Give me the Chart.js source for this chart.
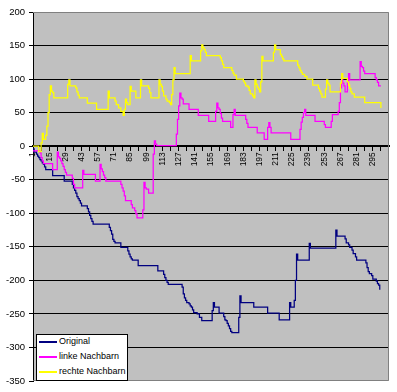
<!DOCTYPE html>
<html>
<head>
<meta charset="utf-8">
<script src="https://cdn.jsdelivr.net/npm/chart.js@4/dist/chart.umd.min.js"></script>
<style>
  body { margin: 0; background: #fff; }
  #wrap { position: relative; width: 397px; height: 392px; }
  #legend {
    position: absolute; left: 36px; top: 334px; width: 90px; height: 45px;
    background: #fff; border: 1px solid #000;
    font: 9px 'Liberation Sans', Arial, sans-serif; color: #000;
  }
  .row { position: absolute; left: 0; height: 15px; line-height: 15px; white-space: nowrap; }
  .sw { position: absolute; left: 2px; top: 7px; width: 18px; height: 2px; }
  .tx { position: absolute; left: 22px; top: 0; }
</style>
</head>
<body>
<div id="wrap">
  <canvas id="chart" width="397" height="392"></canvas>
  <div id="legend"></div>
</div>
<script>
// series names / colours
const seriesNames = ['Original', 'linke Nachbarn', 'rechte Nachbarn'];
const seriesColors = ['#000080', '#ff00ff', '#ffff00'];

// x axis labels (every 14th step) and y range
const xLabels = [1, 15, 29, 43, 57, 71, 85, 99, 113, 127, 141, 155, 169, 183, 197, 211, 225, 239, 253, 267, 281, 295];
const yTicks = [-350, -300, -250, -200, -150, -100, -50, 0, 50, 100, 150, 200];

// step points: value holds from x until the next x
const origX = [1,2,4,5,6,7,8,9,10,11,12,18,28,35,36,37,38,39,40,41,42,43,48,49,50,51,52,53,67,68,69,70,71,72,77,83,84,85,86,87,92,109,114,115,116,117,118,130,131,132,133,134,136,137,138,139,140,143,145,147,156,157,158,162,166,167,168,169,170,171,172,173,179,180,181,192,204,214,223,224,227,228,229,230,240,241,263,264,271,272,274,275,277,278,280,281,289,290,291,292,294,295,298,299,300,301];
const origY = [-4,-9,-12,-15,-17,-20,-22,-25,-27,-31,-35,-44,-52,-57,-62,-66,-70,-75,-78,-81,-85,-89,-93,-98,-103,-108,-112,-116,-121,-126,-131,-139,-142,-144,-151,-156,-161,-165,-168,-170,-178,-186,-191,-196,-200,-203,-206,-210,-220,-226,-230,-233,-235,-238,-240,-244,-248,-250,-255,-260,-245,-233,-240,-249,-254,-259,-260,-264,-268,-272,-276,-278,-255,-223,-233,-240,-249,-259,-233,-240,-230,-200,-161,-170,-145,-152,-125,-134,-138,-144,-147,-151,-155,-160,-165,-170,-174,-181,-187,-190,-193,-198,-201,-205,-207,-214];

const linksX = [1,7,8,9,10,18,22,23,24,25,26,27,28,29,30,35,36,37,44,45,55,59,60,61,62,63,64,77,78,79,80,81,86,87,89,90,91,96,97,98,99,101,105,106,107,108,125,126,127,128,129,130,131,136,144,153,159,160,161,162,163,164,165,172,174,175,176,185,186,187,195,201,204,205,206,207,224,232,233,234,235,236,237,245,253,254,259,260,265,266,267,268,269,270,271,273,274,275,284,285,286,287,288,297,298,299,300,302];
const linksY = [-7,-10,-17,-22,-26,-35,-9,-16,-18,-22,-26,-30,-35,-39,-43,-48,-57,-62,-36,-42,-52,-27,-34,-38,-43,-47,-52,-57,-62,-67,-74,-81,-87,-92,-96,-101,-107,-95,-54,-62,-64,-70,-12,8,3,1,18,40,60,79,72,70,63,55,46,37,52,64,57,55,49,42,37,28,47,55,46,40,34,28,20,10,28,35,28,20,10,25,36,43,50,55,46,37,32,28,37,47,52,65,87,100,94,90,81,95,108,99,126,119,117,112,108,102,99,95,90,90];

const rechtsX = [1,6,8,9,10,12,13,14,15,16,17,18,19,31,32,33,38,39,40,41,48,56,66,67,72,73,75,77,79,80,81,82,83,85,86,90,94,95,101,102,103,110,111,112,113,114,116,117,119,120,121,122,123,124,137,138,146,147,148,149,150,151,163,164,165,166,173,174,175,177,183,184,185,187,188,189,191,192,193,194,195,196,197,198,199,200,209,210,211,215,216,217,218,230,231,232,233,234,236,238,243,248,249,250,251,254,255,256,257,258,267,268,269,273,274,275,276,277,279,288,302];
const rechtsY = [0,-8,5,19,10,16,30,50,77,90,82,80,72,92,99,90,87,81,76,72,64,55,82,72,67,62,57,52,46,55,70,65,62,89,82,72,99,90,86,80,72,99,92,89,82,75,70,67,65,62,77,99,117,108,135,127,142,151,147,144,140,135,132,127,122,117,113,109,106,100,97,94,90,88,83,78,75,72,99,92,88,85,81,96,134,127,140,151,144,137,134,130,127,121,117,113,110,107,104,100,91,86,82,78,73,85,99,94,91,81,94,108,101,96,91,86,81,78,73,65,57];

const fontFamily = "'Liberation Sans', Arial, sans-serif";

function toPoints(xs, ys) {
    return xs.map((x, i) => ({ x: x, y: ys[i] }));
}

// grey plot area + grey frame like the Excel chart
const plotArea = {
    id: 'plotArea',
    beforeDraw(chart) {
        const { ctx, chartArea: a } = chart;
        ctx.save();
        ctx.fillStyle = '#c0c0c0';
        ctx.fillRect(a.left, a.top, a.right - a.left, a.bottom - a.top);
        ctx.restore();
    },
    afterDraw(chart) {
        const { ctx, chartArea: a } = chart;
        ctx.save();
        ctx.strokeStyle = '#808080';
        ctx.lineWidth = 1;
        ctx.beginPath();
        ctx.moveTo(a.left, Math.round(a.top) + 0.5);
        ctx.lineTo(Math.round(a.right) - 0.5, Math.round(a.top) + 0.5);
        ctx.lineTo(Math.round(a.right) - 0.5, Math.round(a.bottom) - 0.5);
        ctx.lineTo(a.left, Math.round(a.bottom) - 0.5);
        ctx.stroke();
        ctx.restore();
    }
};

const ctx = document.getElementById('chart').getContext('2d');

const lineStyle = { pointRadius: 0, borderWidth: 1.25, stepped: 'before', fill: false };

const config = {
    type: 'line',
    data: {
        datasets: [
            Object.assign({ label: seriesNames[0], data: toPoints(origX, origY), borderColor: seriesColors[0], order: 3 }, lineStyle),
            Object.assign({ label: seriesNames[1], data: toPoints(linksX, linksY), borderColor: seriesColors[1], order: 2 }, lineStyle),
            Object.assign({ label: seriesNames[2], data: toPoints(rechtsX, rechtsY), borderColor: seriesColors[2], order: 1 }, lineStyle)
        ]
    },
    options: {
        responsive: false,
        animation: false,
        devicePixelRatio: 1,
        layout: { padding: { top: 12, right: 8, bottom: 11, left: 0 } },
        plugins: {
            legend: { display: false },
            tooltip: { enabled: false }
        },
        scales: {
            x: {
                type: 'linear',
                min: 1,
                max: 309,
                position: { y: 0 },
                afterBuildTicks: scale => {
                    const marks = [];
                    xLabels.forEach(v => { marks.push(v); marks.push(v + 7); });
                    scale.ticks = marks.map(v => ({ value: v }));
                },
                ticks: {
                    autoSkip: false,
                    maxRotation: 90,
                    minRotation: 90,
                    padding: 2,
                    color: '#000',
                    font: { family: fontFamily, size: 8.5 },
                    callback: v => xLabels.includes(v) ? String(v) : ''
                },
                grid: { drawOnChartArea: false, drawTicks: true, tickLength: 4, tickColor: '#000' },
                border: { display: true, color: '#000', width: 2 }
            },
            y: {
                min: yTicks[0],
                max: yTicks[yTicks.length - 1],
                afterFit: scale => { scale.width = 33; },
                afterBuildTicks: scale => { scale.ticks = yTicks.map(v => ({ value: v })); },
                ticks: {
                    padding: 4,
                    color: '#000',
                    font: { family: fontFamily, size: 9.5 }
                },
                grid: {
                    color: c => (c.tick && (c.tick.value === 200 || c.tick.value === -350)) ? 'rgba(0,0,0,0)' : '#000',
                    tickColor: '#000',
                    tickLength: 4
                },
                border: { color: '#000', width: 1 }
            }
        }
    },
    plugins: [plotArea]
};

new Chart(ctx, config);

// legend box in the lower left corner of the plot
const legend = document.getElementById('legend');
seriesNames.forEach((name, i) => {
    const row = document.createElement('div');
    row.className = 'row';
    row.style.top = (i * 15 - 1) + 'px';
    row.innerHTML = '<span class="sw" style="background:' + seriesColors[i] + '"></span><span class="tx">' + name + '</span>';
    legend.appendChild(row);
});
</script>
</body>
</html>
